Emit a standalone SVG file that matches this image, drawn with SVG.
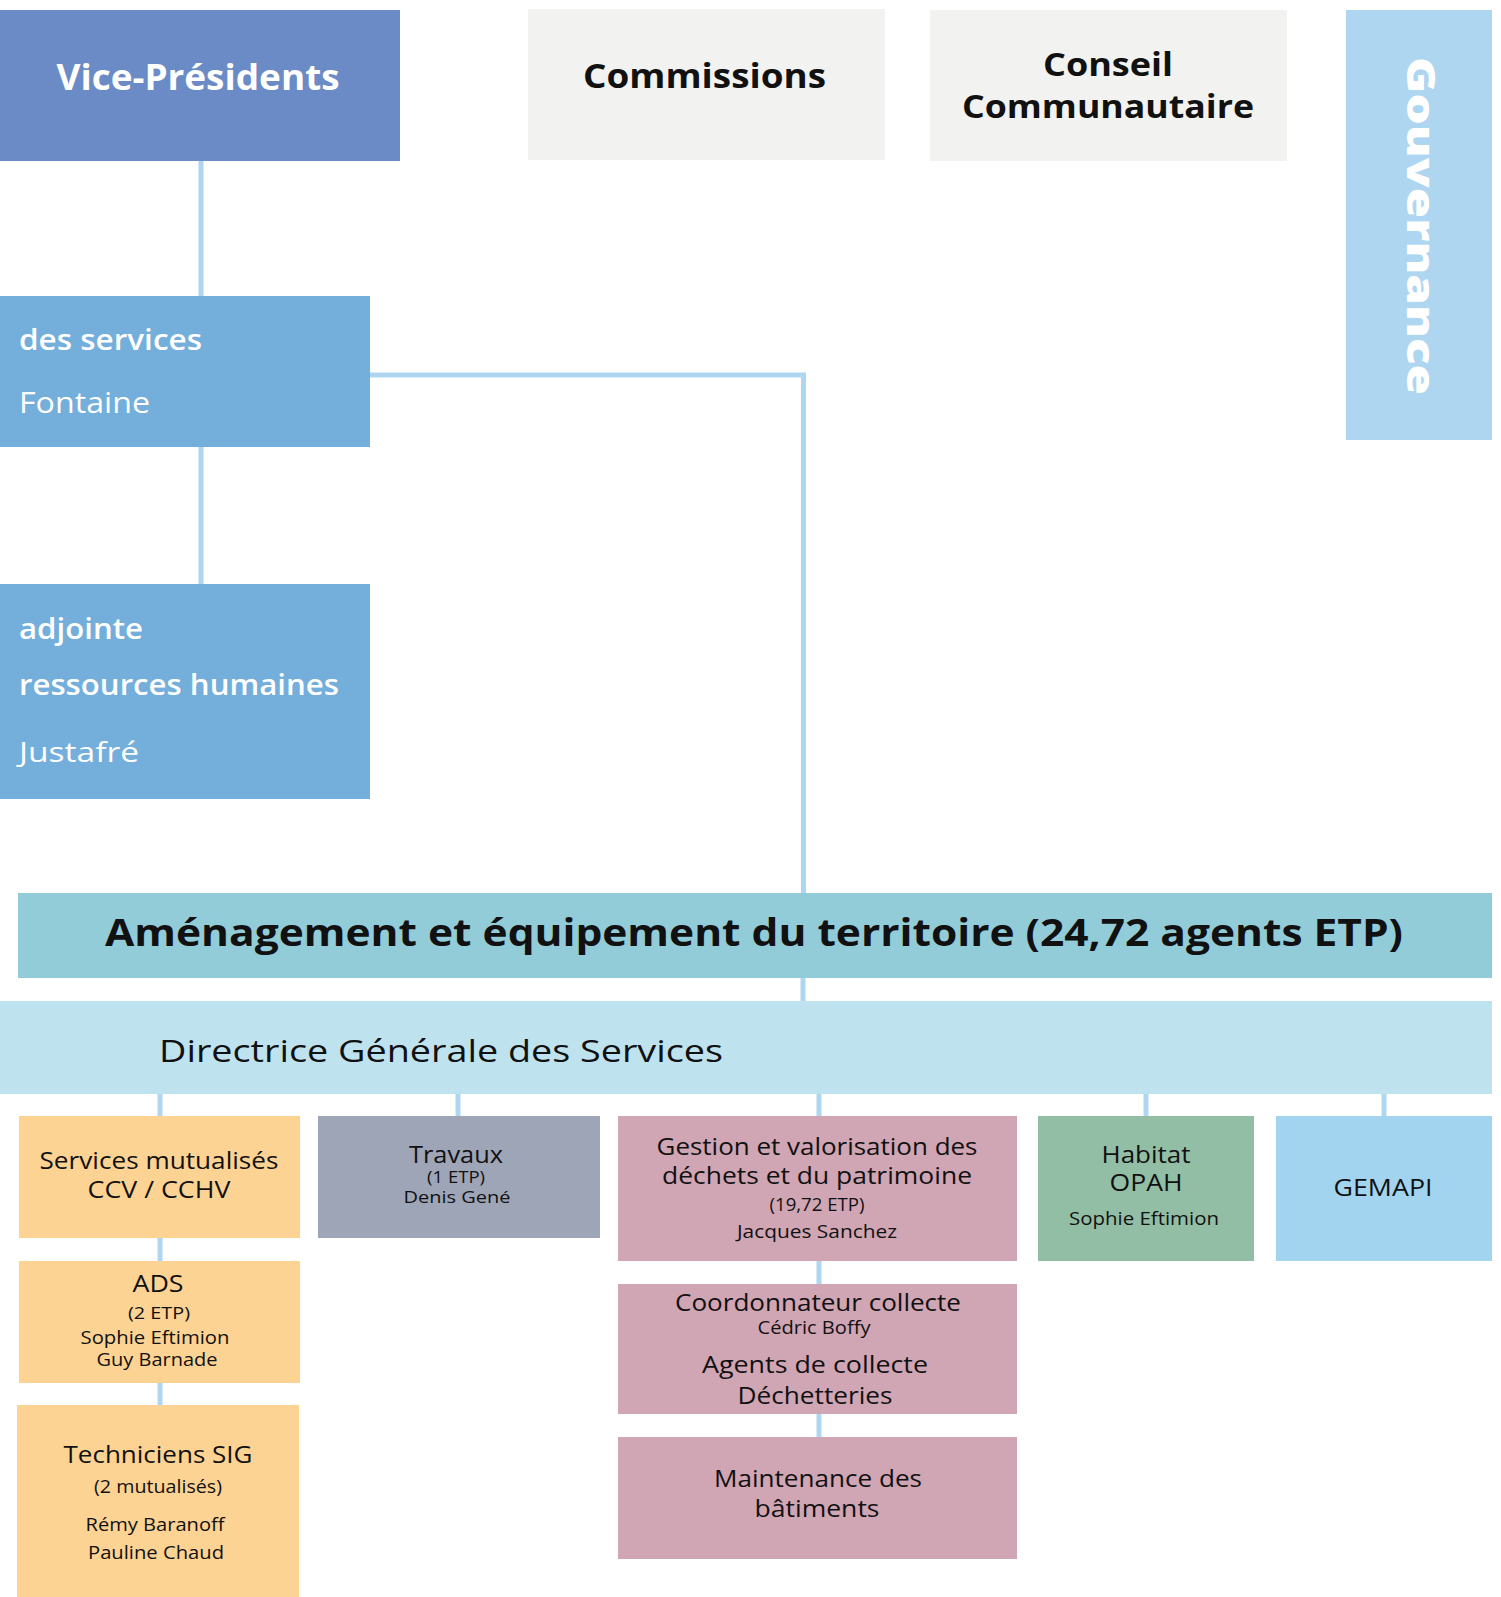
<svg xmlns="http://www.w3.org/2000/svg" width="1501" height="1597" viewBox="0 0 1501 1597">
<style>
text{font-family:"Open Sans","Noto Sans","Liberation Sans",sans-serif;fill:#111}
.c{text-anchor:middle}
.w{fill:#fff}
.b{font-weight:700}
.xb{font-weight:800}
.m{font-weight:500}
.sb{font-weight:600}
.conn{stroke:#aed6f0;stroke-width:5;fill:none}
</style>
<rect width="1501" height="1597" fill="#fff"/>
<g id="connectors">
<path class="conn" d="M201 161V296"/>
<path class="conn" d="M201 447V584"/>
<path class="conn" d="M370 375H803.5V893"/>
<path class="conn" d="M803 978V1001"/>
<path class="conn" d="M160 1094V1116"/>
<path class="conn" d="M458 1094V1116"/>
<path class="conn" d="M819 1094V1116"/>
<path class="conn" d="M1146 1094V1116"/>
<path class="conn" d="M1384 1094V1116"/>
<path class="conn" d="M160 1238V1261"/>
<path class="conn" d="M160 1383V1405"/>
<path class="conn" d="M819 1261V1284"/>
<path class="conn" d="M819 1414V1437"/>
</g>
<g id="vice-presidents">
<rect x="0" y="10" width="400" height="151" fill="#6a8bc6"/>
<text class="c w b" x="198" y="90" font-size="35" textLength="283" lengthAdjust="spacingAndGlyphs">Vice-Présidents</text>
</g>
<g id="commissions">
<rect x="528" y="9" width="357" height="151" fill="#f2f2f0"/>
<text class="c b" x="704.5" y="88" font-size="34" textLength="243" lengthAdjust="spacingAndGlyphs">Commissions</text>
</g>
<g id="conseil">
<rect x="930" y="10" width="357" height="151" fill="#f2f2f0"/>
<text class="c b" x="1108" y="76" font-size="33" textLength="130" lengthAdjust="spacingAndGlyphs">Conseil</text>
<text class="c b" x="1108" y="118" font-size="33" textLength="292" lengthAdjust="spacingAndGlyphs">Communautaire</text>
</g>
<g id="gouvernance">
<rect x="1346" y="10" width="146" height="430" fill="#aed6f0"/>
<text class="c w xb" x="226" y="-1407" font-size="38" transform="rotate(90)" textLength="338" lengthAdjust="spacingAndGlyphs">Gouvernance</text>
</g>
<g id="dgs-services">
<rect x="0" y="296" width="370" height="151" fill="#74aedb"/>
<text class="w sb" x="19" y="350" font-size="29" textLength="183" lengthAdjust="spacingAndGlyphs">des services</text>
<text class="w" x="19" y="413" font-size="30" textLength="131" lengthAdjust="spacingAndGlyphs">Fontaine</text>
</g>
<g id="adjointe-rh">
<rect x="0" y="584" width="370" height="215" fill="#74aedb"/>
<text class="w sb" x="19" y="639" font-size="29" textLength="124" lengthAdjust="spacingAndGlyphs">adjointe</text>
<text class="w sb" x="19" y="695" font-size="29" textLength="320" lengthAdjust="spacingAndGlyphs">ressources humaines</text>
<text class="w" x="19" y="762" font-size="28" textLength="120" lengthAdjust="spacingAndGlyphs">Justafré</text>
</g>
<g id="amenagement">
<rect x="18" y="893" width="1474" height="85" fill="#92ccd9"/>
<text class="c b" x="754" y="946" font-size="38" textLength="1298" lengthAdjust="spacingAndGlyphs">Aménagement et équipement du territoire (24,72 agents ETP)</text>
</g>
<g id="directrice">
<rect x="0" y="1001" width="1492" height="93" fill="#bee3ef"/>
<text x="159" y="1062" font-size="31" textLength="564" lengthAdjust="spacingAndGlyphs">Directrice Générale des Services</text>
</g>
<g id="services-mutualises">
<rect x="19" y="1116" width="281" height="122" fill="#fdd394"/>
<text class="c m" x="159" y="1169" font-size="24" textLength="239" lengthAdjust="spacingAndGlyphs">Services mutualisés</text>
<text class="c m" x="159" y="1198" font-size="24" textLength="143" lengthAdjust="spacingAndGlyphs">CCV / CCHV</text>
</g>
<g id="ads">
<rect x="19" y="1261" width="281" height="122" fill="#fdd394"/>
<text class="c m" x="158" y="1292" font-size="24" textLength="51" lengthAdjust="spacingAndGlyphs">ADS</text>
<text class="c" x="159" y="1319" font-size="17" textLength="62" lengthAdjust="spacingAndGlyphs">(2 ETP)</text>
<text class="c" x="155" y="1344" font-size="18" textLength="149" lengthAdjust="spacingAndGlyphs">Sophie Eftimion</text>
<text class="c" x="157" y="1366" font-size="18" textLength="121" lengthAdjust="spacingAndGlyphs">Guy Barnade</text>
</g>
<g id="techniciens-sig">
<rect x="17" y="1405" width="282" height="192" fill="#fdd394"/>
<text class="c m" x="158" y="1463" font-size="24" textLength="189" lengthAdjust="spacingAndGlyphs">Techniciens SIG</text>
<text class="c" x="158" y="1493" font-size="19" textLength="128" lengthAdjust="spacingAndGlyphs">(2 mutualisés)</text>
<text class="c" x="155" y="1531" font-size="19" textLength="139" lengthAdjust="spacingAndGlyphs">Rémy Baranoff</text>
<text class="c" x="156" y="1559" font-size="19" textLength="136" lengthAdjust="spacingAndGlyphs">Pauline Chaud</text>
</g>
<g id="travaux">
<rect x="318" y="1116" width="282" height="122" fill="#9ea5b7"/>
<text class="c m" x="456" y="1163" font-size="24" textLength="94" lengthAdjust="spacingAndGlyphs">Travaux</text>
<text class="c" x="456" y="1183" font-size="17" textLength="58" lengthAdjust="spacingAndGlyphs">(1 ETP)</text>
<text class="c" x="457" y="1203" font-size="17" textLength="107" lengthAdjust="spacingAndGlyphs">Denis Gené</text>
</g>
<g id="gestion-dechets">
<rect x="618" y="1116" width="399" height="145" fill="#d0a5b4"/>
<text class="c m" x="817" y="1155" font-size="23" textLength="321" lengthAdjust="spacingAndGlyphs">Gestion et valorisation des</text>
<text class="c m" x="817" y="1184" font-size="23" textLength="310" lengthAdjust="spacingAndGlyphs">déchets et du patrimoine</text>
<text class="c" x="817" y="1211" font-size="18" textLength="95" lengthAdjust="spacingAndGlyphs">(19,72 ETP)</text>
<text class="c" x="817" y="1238" font-size="18" textLength="160" lengthAdjust="spacingAndGlyphs">Jacques Sanchez</text>
</g>
<g id="coordonnateur-collecte">
<rect x="618" y="1284" width="399" height="130" fill="#d0a5b4"/>
<text class="c m" x="818" y="1311" font-size="23" textLength="286" lengthAdjust="spacingAndGlyphs">Coordonnateur collecte</text>
<text class="c" x="814" y="1334" font-size="18" textLength="113" lengthAdjust="spacingAndGlyphs">Cédric Boffy</text>
<text class="c m" x="815" y="1373" font-size="24" textLength="226" lengthAdjust="spacingAndGlyphs">Agents de collecte</text>
<text class="c m" x="815" y="1404" font-size="24" textLength="155" lengthAdjust="spacingAndGlyphs">Déchetteries</text>
</g>
<g id="maintenance">
<rect x="618" y="1437" width="399" height="122" fill="#d0a5b4"/>
<text class="c m" x="818" y="1487" font-size="23" textLength="208" lengthAdjust="spacingAndGlyphs">Maintenance des</text>
<text class="c m" x="817" y="1517" font-size="23" textLength="125" lengthAdjust="spacingAndGlyphs">bâtiments</text>
</g>
<g id="habitat">
<rect x="1038" y="1116" width="216" height="145" fill="#93bea6"/>
<text class="c m" x="1146" y="1163" font-size="23" textLength="89" lengthAdjust="spacingAndGlyphs">Habitat</text>
<text class="c m" x="1146" y="1191" font-size="23" textLength="73" lengthAdjust="spacingAndGlyphs">OPAH</text>
<text class="c" x="1144" y="1225" font-size="19" textLength="150" lengthAdjust="spacingAndGlyphs">Sophie Eftimion</text>
</g>
<g id="gemapi">
<rect x="1276" y="1116" width="216" height="145" fill="#a2d4f0"/>
<text class="c m" x="1383" y="1196" font-size="23" textLength="99" lengthAdjust="spacingAndGlyphs">GEMAPI</text>
</g>
</svg>
